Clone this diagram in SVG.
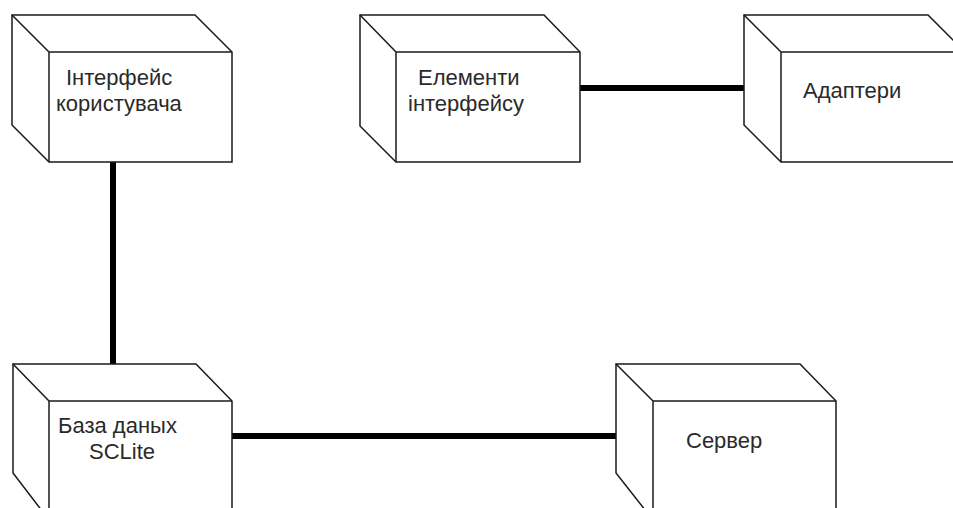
<svg xmlns="http://www.w3.org/2000/svg" width="953" height="508" viewBox="0 0 953 508">
<defs>
<style>
.box{fill:#fff;stroke:#1a1a1a;stroke-width:1.5;stroke-linejoin:miter}
.edge{fill:none;stroke:#1a1a1a;stroke-width:1.5}
.lbl{font-family:"Liberation Sans",Arial,sans-serif;font-size:22px;fill:#2a2a2a}
.conn{stroke:#000;stroke-width:6;fill:none}
</style>
</defs>
<rect width="953" height="508" fill="#fff"/>
<g id="connectors">
<line class="conn" x1="113" y1="162" x2="113" y2="364"/>
<line class="conn" x1="580" y1="88" x2="744" y2="88"/>
<line class="conn" x1="232" y1="436" x2="616" y2="436"/>
</g>
<g id="node-interface-user">
<path class="box" d="M12,15 H195 L232,52 V162 H49 L12,125 Z"/>
<path class="edge" d="M12,15 L49,52 H232 M49,52 V162"/>
<text class="lbl" x="66" y="85">Інтерфейс</text>
<text class="lbl" x="56" y="111">користувача</text>
</g>
<g id="node-elements">
<path class="box" d="M360,15 H544 L580,52 V162 H396 L360,126 Z"/>
<path class="edge" d="M360,15 L396,52 H580 M396,52 V162"/>
<text class="lbl" x="418" y="85">Елементи</text>
<text class="lbl" x="408" y="111">інтерфейсу</text>
</g>
<g id="node-adapters">
<path class="box" d="M744,15 H928 L965,52 V162 H781 L744,125 Z"/>
<path class="edge" d="M744,15 L781,52 H965 M781,52 V162"/>
<text class="lbl" x="803" y="98">Адаптери</text>
</g>
<g id="node-database">
<path class="box" d="M13,364 H196 L232,401 V520 H49 L13,473 Z"/>
<path class="edge" d="M13,364 L49,401 H232 M49,401 V520"/>
<text class="lbl" x="58" y="433">База даных</text>
<text class="lbl" x="89" y="459">SCLite</text>
</g>
<g id="node-server">
<path class="box" d="M616,364 H800 L836,401 V520 H653 L616,473 Z"/>
<path class="edge" d="M616,364 L653,401 H836 M653,401 V520"/>
<text class="lbl" x="686" y="448">Сервер</text>
</g>
</svg>
